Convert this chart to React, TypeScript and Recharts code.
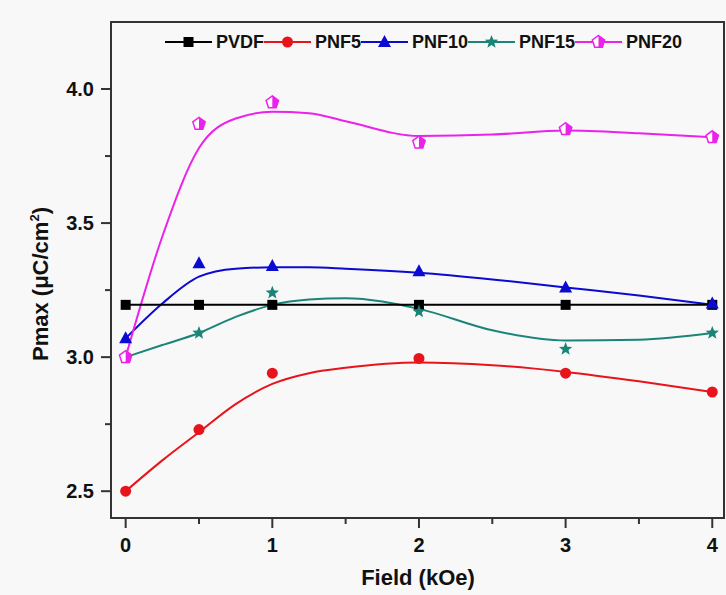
import { ComposedChart, Line, XAxis, YAxis, ReferenceArea, Label } from 'recharts';

const field = [0, 0.5, 1, 2, 3, 4];
const pvdf = [3.195, 3.195, 3.195, 3.195, 3.195, 3.195];
const pnf5 = [2.5, 2.73, 2.94, 2.995, 2.94, 2.87];
const pnf10 = [3.07, 3.35, 3.34, 3.32, 3.26, 3.2];
const pnf15 = [3.0, 3.09, 3.24, 3.17, 3.03, 3.09];
const pnf20 = [3.0, 3.87, 3.95, 3.8, 3.85, 3.82];

// smoothed fit curves
const fitField = [0, 0.25, 0.5, 0.75, 1, 1.25, 1.5, 2, 2.5, 3, 3.5, 4];
const pnf5Fit = [2.5, 2.615, 2.72, 2.825, 2.9, 2.94, 2.96, 2.98, 2.97, 2.945, 2.91, 2.87];
const pnf10Fit = [3.07, 3.2, 3.3, 3.33, 3.335, 3.335, 3.33, 3.315, 3.29, 3.26, 3.23, 3.195];
const pnf15Fit = [3.0, 3.045, 3.09, 3.15, 3.195, 3.215, 3.22, 3.18, 3.1, 3.062, 3.065, 3.09];
const pnf20Fit = [3.0, 3.45, 3.78, 3.89, 3.915, 3.91, 3.88, 3.825, 3.83, 3.845, 3.835, 3.82];

const xTicks = [0, 0.5, 1, 1.5, 2, 2.5, 3, 3.5, 4];
const yTicks = [2.5, 2.75, 3, 3.25, 3.5, 3.75, 4];

const FONT = '"Liberation Sans", Arial, sans-serif';
const AXIS = '#333';
const C_PVDF = '#000000';
const C_PNF5 = '#e8141c';
const C_PNF10 = '#0a0ad2';
const C_PNF15 = '#1a8576';
const C_PNF20 = '#ea22ea';

const points = field.map((f, i) => ({
  field: f,
  pvdf: pvdf[i],
  pnf5: pnf5[i],
  pnf10: pnf10[i],
  pnf15: pnf15[i],
  pnf20: pnf20[i],
}));

const fits = fitField.map((f, i) => ({
  field: f,
  pnf5: pnf5Fit[i],
  pnf10: pnf10Fit[i],
  pnf15: pnf15Fit[i],
  pnf20: pnf20Fit[i],
}));

function Square({ cx, cy }: { cx: number; cy: number }) {
  return <rect x={cx - 5} y={cy - 5} width={10} height={10} fill={C_PVDF} />;
}

function Dot({ cx, cy }: { cx: number; cy: number }) {
  return <circle cx={cx} cy={cy} r={5.5} fill={C_PNF5} />;
}

function Tri({ cx, cy }: { cx: number; cy: number }) {
  return <polygon points={`${cx},${cy - 7} ${cx - 6.5},${cy + 5} ${cx + 6.5},${cy + 5}`} fill={C_PNF10} />;
}

function Star({ cx, cy }: { cx: number; cy: number }) {
  const pts: string[] = [];
  for (let k = 0; k < 10; k++) {
    const r = k % 2 === 0 ? 7 : 3;
    const a = -Math.PI / 2 + (k * Math.PI) / 5;
    pts.push(`${cx + r * Math.cos(a)},${cy + r * Math.sin(a)}`);
  }
  return <polygon points={pts.join(' ')} fill={C_PNF15} />;
}

function HalfPenta({ cx, cy }: { cx: number; cy: number }) {
  const r = 6.5;
  const v = [-90, -18, 54, 126, 198].map((d) => {
    const a = (d * Math.PI) / 180;
    return [cx + r * Math.cos(a), cy + r * Math.sin(a)];
  });
  const bottom = cy + r * Math.sin((54 * Math.PI) / 180);
  const right = [v[0], v[1], v[2], [cx, bottom]];
  return (
    <g>
      <polygon points={v.map((p) => p.join(',')).join(' ')} fill="#fff" stroke={C_PNF20} strokeWidth={1.5} />
      <polygon points={right.map((p) => p.join(',')).join(' ')} fill={C_PNF20} />
    </g>
  );
}

function XTick(props: any) {
  const { x, y, payload } = props;
  const v = payload.value;
  const major = Number.isInteger(v);
  return (
    <g>
      <line x1={x} x2={x} y1={y} y2={y + (major ? 10 : 6)} stroke={AXIS} strokeWidth={2} />
      {major && (
        <text x={x} y={y + 34} textAnchor="middle" fontSize={20} fontWeight="bold" fill="#111" fontFamily={FONT}>
          {v}
        </text>
      )}
    </g>
  );
}

function YTick(props: any) {
  const { x, y, payload } = props;
  const v = payload.value;
  const major = Number.isInteger(v * 2);
  return (
    <g>
      <line x1={x} x2={x - (major ? 10 : 6)} y1={y} y2={y} stroke={AXIS} strokeWidth={2} />
      {major && (
        <text x={x - 17} y={y + 7} textAnchor="end" fontSize={20} fontWeight="bold" fill="#111" fontFamily={FONT}>
          {v.toFixed(1)}
        </text>
      )}
    </g>
  );
}

const legendItems = [
  { name: 'PVDF', color: C_PVDF, Marker: Square },
  { name: 'PNF5', color: C_PNF5, Marker: Dot },
  { name: 'PNF10', color: C_PNF10, Marker: Tri },
  { name: 'PNF15', color: C_PNF15, Marker: Star },
  { name: 'PNF20', color: C_PNF20, Marker: HalfPenta },
];

export default function App() {
  return (
    <div style={{ position: 'absolute', left: 0, top: 0, width: 726, height: 595, background: '#f8f8f8' }}>
      <ComposedChart width={726} height={595} margin={{ top: 22, right: 2, left: 0, bottom: 0 }}>
        <XAxis
          dataKey="field"
          type="number"
          domain={[-0.1, 4.08]}
          ticks={xTicks}
          interval={0}
          allowDataOverflow
          height={77}
          tickSize={0}
          tickMargin={0}
          tickLine={false}
          axisLine={{ stroke: AXIS, strokeWidth: 2 }}
          tick={<XTick />}
        >
          <Label
            content={() => (
              <text x={418} y={585} textAnchor="middle" fontSize={22} fontWeight="bold" fill="#111" fontFamily={FONT}>
                Field (kOe)
              </text>
            )}
          />
        </XAxis>
        <YAxis
          type="number"
          domain={[2.4, 4.25]}
          ticks={yTicks}
          interval={0}
          allowDataOverflow
          width={111}
          tickSize={0}
          tickMargin={0}
          tickLine={false}
          axisLine={{ stroke: AXIS, strokeWidth: 2 }}
          tick={<YTick />}
        >
          <Label
            content={() => (
              <text
                transform="translate(48,284) rotate(-90)"
                textAnchor="middle"
                fontSize={22}
                fontWeight="bold"
                fill="#111"
                fontFamily={FONT}
              >
                <tspan>Pmax (μC/cm</tspan>
                <tspan dy={-9} fontSize={13}>2</tspan>
                <tspan dy={9}>)</tspan>
              </text>
            )}
          />
        </YAxis>
        <ReferenceArea x1={-0.1} x2={4.08} y1={2.4} y2={4.25} fill="none" stroke={AXIS} strokeWidth={2} />

        <Line data={fits} dataKey="pnf5" type="monotone" stroke={C_PNF5} strokeWidth={2} dot={false} activeDot={false} isAnimationActive={false} />
        <Line data={fits} dataKey="pnf10" type="monotone" stroke={C_PNF10} strokeWidth={2} dot={false} activeDot={false} isAnimationActive={false} />
        <Line data={fits} dataKey="pnf15" type="monotone" stroke={C_PNF15} strokeWidth={2} dot={false} activeDot={false} isAnimationActive={false} />
        <Line data={fits} dataKey="pnf20" type="monotone" stroke={C_PNF20} strokeWidth={2} dot={false} activeDot={false} isAnimationActive={false} />
        <Line
          data={points}
          dataKey="pvdf"
          type="linear"
          stroke={C_PVDF}
          strokeWidth={2}
          activeDot={false}
          isAnimationActive={false}
          dot={(p: any) => <Square key={`pv${p.index}`} cx={p.cx} cy={p.cy} />}
        />
        <Line data={points} dataKey="pnf5" stroke="none" activeDot={false} isAnimationActive={false}
          dot={(p: any) => <Dot key={`a${p.index}`} cx={p.cx} cy={p.cy} />} />
        <Line data={points} dataKey="pnf10" stroke="none" activeDot={false} isAnimationActive={false}
          dot={(p: any) => <Tri key={`b${p.index}`} cx={p.cx} cy={p.cy} />} />
        <Line data={points} dataKey="pnf15" stroke="none" activeDot={false} isAnimationActive={false}
          dot={(p: any) => <Star key={`c${p.index}`} cx={p.cx} cy={p.cy} />} />
        <Line data={points} dataKey="pnf20" stroke="none" activeDot={false} isAnimationActive={false}
          dot={(p: any) => <HalfPenta key={`d${p.index}`} cx={p.cx} cy={p.cy} />} />
      </ComposedChart>

      <div
        style={{
          position: 'absolute',
          left: 165,
          top: 32,
          display: 'flex',
          alignItems: 'center',
          fontFamily: FONT,
          fontWeight: 'bold',
          fontSize: 18,
          color: '#111',
        }}
      >
        {legendItems.map(({ name, color, Marker }) => (
          <div key={name} style={{ display: 'flex', alignItems: 'center' }}>
            <svg width={47} height={20}>
              <line x1={0} x2={47} y1={10} y2={10} stroke={color} strokeWidth={2} />
              <Marker cx={23.5} cy={10} />
            </svg>
            <span style={{ marginLeft: 4, lineHeight: '20px' }}>{name}</span>
          </div>
        ))}
      </div>
    </div>
  );
}
